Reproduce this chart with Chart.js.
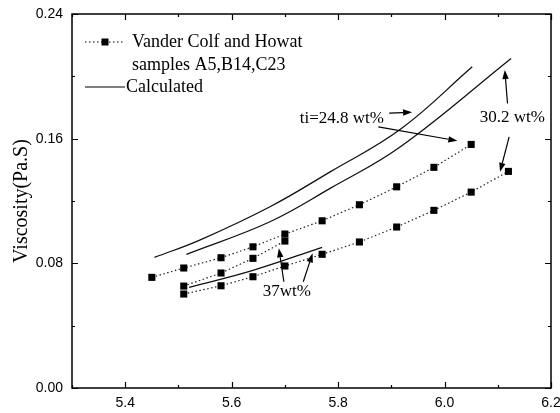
<!DOCTYPE html>
<html>
<head>
<meta charset="utf-8">
<title>Viscosity vs composition</title>
<script src="https://cdn.jsdelivr.net/npm/chart.js@4/dist/chart.umd.min.js"></script>
<style>
  html, body { margin: 0; padding: 0; background: #fff; }
  #chart { display: block; }
</style>
</head>
<body>
<canvas id="chart" width="560" height="413"></canvas>
<script>
/* ---------------------------------------------------------------
   Data
   --------------------------------------------------------------- */
// Vander Colf and Howat measurements (dotted + squares)
const expX248 = [5.45, 5.51, 5.58, 5.64, 5.70, 5.77, 5.84, 5.91, 5.98, 6.05];
const expY248 = [0.0710, 0.0770, 0.0836, 0.0906, 0.0988, 0.1073, 0.1176, 0.1291, 0.1416, 0.1563];
const expX302 = [5.51, 5.58, 5.64, 5.70, 5.77, 5.84, 5.91, 5.98, 6.05, 6.12];
const expY302 = [0.0603, 0.0656, 0.0714, 0.0783, 0.0858, 0.0937, 0.1033, 0.1140, 0.1257, 0.1390];
const expX37 = [5.51, 5.58, 5.64, 5.70];
const expY37 = [0.0654, 0.0738, 0.0832, 0.0943];

// calculated curves (solid)
const calcX248 = [5.455, 5.54, 5.672, 5.785, 5.917, 6.052];
const calcY248 = [0.0838, 0.0949, 0.1163, 0.1387, 0.1660, 0.2061];
const calcX302 = [5.515, 5.672, 5.785, 5.917, 6.125];
const calcY302 = [0.0858, 0.1067, 0.1281, 0.1548, 0.2115];
const calcX37 = [5.52, 5.64, 5.77];
const calcY37 = [0.0646, 0.0755, 0.0903];

// axes
const xRange = [5.3, 6.2];
const yRange = [0, 0.24];
const yTitle = 'Viscosity(Pa.S)';

// legend + annotation texts
const legendExp = ['Vander Colf and Howat', 'samples A5,B14,C23'];
const legendCalc = 'Calculated';
const notes = [
  { text: 'ti=24.8 wt%', x: 5.728, y: 0.1732 },
  { text: '30.2 wt%', x: 6.066, y: 0.1738 },
  { text: '37wt%', x: 5.6585, y: 0.0616 }
];
const arrows = [
  [5.896, 0.1764, 5.939, 0.1770],
  [5.8755, 0.1676, 6.024, 0.1586],
  [6.1183, 0.1826, 6.1132, 0.2040],
  [6.1213, 0.1612, 6.1043, 0.1387],
  [5.6981, 0.0682, 5.6887, 0.0896],
  [5.7345, 0.0682, 5.7521, 0.0864]
];

(() => {
  const SERIF = '"Liberation Serif", "Times New Roman", serif';
  const SANS = '"Liberation Sans", Arial, sans-serif';
  const zip = (xs, ys) => xs.map((x, i) => ({ x, y: ys[i] }));

  const dotted = (xs, ys) => ({
    data: zip(xs, ys),
    showLine: true,
    borderColor: '#222',
    borderWidth: 1.2,
    borderDash: [1.5, 2.5],
    pointStyle: 'rect',
    pointRadius: 5,
    pointBackgroundColor: '#000',
    pointBorderColor: '#000',
    pointBorderWidth: 0,
    tension: 0
  });
  const solid = (xs, ys) => ({
    data: zip(xs, ys),
    showLine: true,
    borderColor: '#111',
    borderWidth: 1.3,
    pointRadius: 0,
    tension: 0.4
  });

  const isMajorX = v => Math.round(v * 10) % 2 === 0 && v > 5.35;
  const isMajorY = v => Math.round(v * 100) % 8 === 0;

  /* -----------------------------------------------------------------
     frame, inner ticks, legend and arrows
     ----------------------------------------------------------------- */
  const extras = {
    id: 'extras',
    afterDraw(chart) {
      const { ctx, chartArea: a, scales: { x, y } } = chart;
      ctx.save();
      ctx.strokeStyle = '#000';
      ctx.lineWidth = 1.5;
      ctx.strokeRect(a.left, a.top, a.right - a.left, a.bottom - a.top);

      ctx.lineWidth = 1.2;
      ctx.beginPath();
      x.ticks.forEach(t => {
        const px = Math.round(x.getPixelForValue(t.value)) + 0.5;
        const len = isMajorX(t.value) ? 6 : 3;
        ctx.moveTo(px, a.bottom); ctx.lineTo(px, a.bottom - len);
        ctx.moveTo(px, a.top); ctx.lineTo(px, a.top + len);
      });
      y.ticks.forEach(t => {
        const py = Math.round(y.getPixelForValue(t.value)) + 0.5;
        const len = isMajorY(t.value) ? 6 : 3;
        ctx.moveTo(a.left, py); ctx.lineTo(a.left + len, py);
        ctx.moveTo(a.right, py); ctx.lineTo(a.right - len, py);
      });
      ctx.stroke();

      // legend
      const lx = a.left + 13, ly = a.top + 28;
      ctx.lineWidth = 1.2;
      ctx.setLineDash([1.5, 2.5]);
      ctx.beginPath(); ctx.moveTo(lx, ly); ctx.lineTo(lx + 38, ly); ctx.stroke();
      ctx.setLineDash([]);
      ctx.fillStyle = '#000';
      ctx.fillRect(lx + 16.5, ly - 3.5, 7, 7);
      ctx.beginPath(); ctx.moveTo(lx, ly + 45); ctx.lineTo(lx + 40, ly + 45); ctx.stroke();
      ctx.font = `18px ${SERIF}`;
      ctx.textBaseline = 'middle';
      ctx.textAlign = 'left';
      ctx.fillText(legendExp[0], lx + 47, ly);
      ctx.fillText(legendExp[1], lx + 47, ly + 23);
      ctx.fillText(legendCalc, lx + 41, ly + 45);

      // annotations
      ctx.font = `17px ${SERIF}`;
      notes.forEach(n => ctx.fillText(n.text, x.getPixelForValue(n.x), y.getPixelForValue(n.y)));
      arrows.forEach(([x0, y0, x1, y1]) => {
        const p0 = [x.getPixelForValue(x0), y.getPixelForValue(y0)];
        const p1 = [x.getPixelForValue(x1), y.getPixelForValue(y1)];
        const ang = Math.atan2(p1[1] - p0[1], p1[0] - p0[0]);
        const hl = 9, hw = 3.2;
        const bx = p1[0] - hl * Math.cos(ang), by = p1[1] - hl * Math.sin(ang);
        ctx.lineWidth = 1.2;
        ctx.beginPath(); ctx.moveTo(p0[0], p0[1]); ctx.lineTo(bx, by); ctx.stroke();
        ctx.beginPath();
        ctx.moveTo(p1[0], p1[1]);
        ctx.lineTo(bx + hw * Math.sin(ang), by - hw * Math.cos(ang));
        ctx.lineTo(bx - hw * Math.sin(ang), by + hw * Math.cos(ang));
        ctx.closePath();
        ctx.fill();
      });
      ctx.restore();
    }
  };

  /* -----------------------------------------------------------------
     chart
     ----------------------------------------------------------------- */
  new Chart(document.getElementById('chart'), {
    type: 'scatter',
    data: {
      datasets: [
        dotted(expX248, expY248),
        dotted(expX302, expY302),
        dotted(expX37, expY37),
        solid(calcX248, calcY248),
        solid(calcX302, calcY302),
        solid(calcX37, calcY37)
      ]
    },
    options: {
      responsive: false,
      animation: false,
      layout: { padding: { top: 14, right: 9, left: 0, bottom: 0 } },
      plugins: { legend: { display: false }, tooltip: { enabled: false } },
      scales: {
        x: {
          type: 'linear',
          min: xRange[0], max: xRange[1],
          grid: { display: false, drawTicks: false },
          border: { display: false },
          ticks: {
            stepSize: 0.1,
            autoSkip: false,
            maxRotation: 0,
            padding: 7,
            color: '#000',
            font: { family: SANS, size: 14 },
            callback: v => isMajorX(v) ? v.toFixed(1) : ''
          },
          afterFit: s => { s.height = 25; s.paddingLeft = 0; s.paddingRight = 0; }
        },
        y: {
          min: yRange[0], max: yRange[1],
          grid: { display: false, drawTicks: false },
          border: { display: false },
          ticks: {
            stepSize: 0.04,
            autoSkip: false,
            padding: 9,
            color: '#000',
            font: { family: SANS, size: 14 },
            callback: v => isMajorY(v) ? v.toFixed(2) : ''
          },
          title: {
            display: true,
            text: yTitle,
            color: '#000',
            font: { family: SERIF, size: 20 },
            padding: { top: 10, bottom: 0 }
          },
          afterFit: s => { s.width = 72; s.paddingTop = 0; s.paddingBottom = 0; }
        }
      }
    },
    plugins: [extras]
  });
})();
</script>
</body>
</html>
